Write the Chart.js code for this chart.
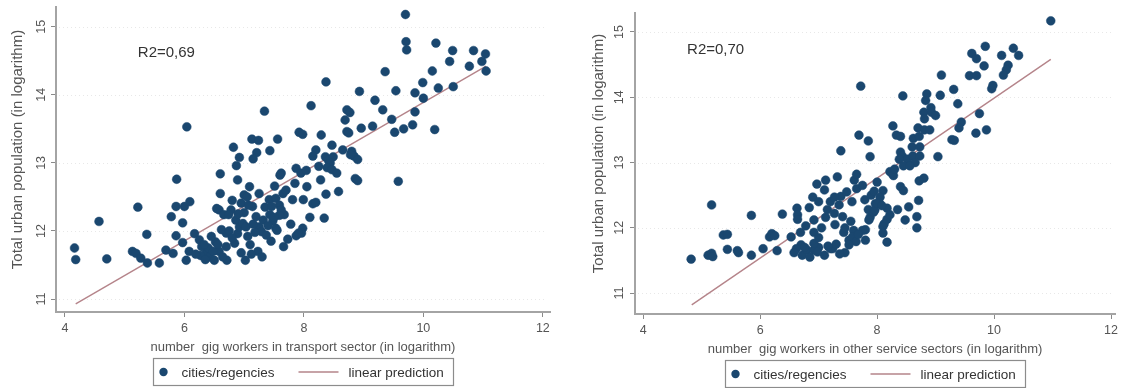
<!DOCTYPE html>
<html>
<head>
<meta charset="utf-8">
<script src="https://cdn.jsdelivr.net/npm/chart.js@4.4.1/dist/chart.umd.min.js"></script>
<style>
  body { margin: 0; background: #fff; }
  #wrap { display: flex; width: 1122px; height: 388px; }
  canvas { display: block; }
</style>
</head>
<body>
<div id="wrap">
  <canvas id="transport-chart" width="561" height="388"></canvas>
  <canvas id="service-chart" width="561" height="388"></canvas>
</div>
<script>
const xTicks = [4, 6, 8, 10, 12];
const yTicks = [11, 12, 13, 14, 15];

// left panel: gig workers in transport (log) vs urban population (log)
const transportX = [
  4.16, 4.18, 4.57, 4.70, 5.22, 5.37, 5.13, 5.19, 5.27, 5.38,
  5.58, 5.69, 5.81, 5.86, 5.97, 5.97, 5.78, 5.86, 6.00, 6.09,
  5.87, 6.04, 6.17, 6.03, 6.08, 6.25, 6.29, 6.36, 6.27, 6.19,
  6.42, 6.50, 6.52, 6.58, 6.71, 6.70, 6.70, 6.58, 6.54, 6.60,
  6.60, 6.78, 6.66, 6.74, 6.86, 6.84, 6.89, 6.92, 6.95, 7.00,
  7.09, 6.89, 6.87, 6.92, 6.82, 7.13, 7.24, 7.21, 7.15, 7.43,
  7.34, 7.56, 7.62, 7.60, 7.51, 7.25, 7.14, 7.07, 7.00, 6.98,
  7.03, 7.06, 7.23, 7.02, 7.20, 7.25, 7.29, 7.37, 7.53, 7.32,
  7.43, 7.42, 7.53, 7.65, 7.70, 7.59, 7.67, 7.62, 7.81, 7.87,
  7.95, 7.92, 7.98, 7.98, 7.87, 7.73, 7.66, 8.05,
  9.70, 9.71, 9.72, 10.21, 10.49, 10.84, 11.04, 10.98, 11.05, 10.77,
  10.44, 10.15, 9.36, 9.99, 10.25, 10.50, 9.86, 10.00, 9.54, 9.86,
  9.19, 9.32, 8.93, 8.37, 9.47, 9.52, 9.67, 9.82, 10.19, 9.58,
  9.15, 8.96, 8.72, 8.77, 8.69, 8.72, 8.75, 8.12,
  8.29, 8.20, 8.47, 8.65, 8.80, 8.84, 8.78, 8.90, 8.36, 8.41, 8.49, 8.44, 8.39, 8.47,
  8.04, 8.28, 8.86, 8.90,
  8.37, 8.58, 7.99, 8.15, 8.20, 8.34,
  7.96, 7.91, 7.55, 7.48, 7.59,
  7.10, 7.15, 7.35, 7.45, 6.95, 6.62, 6.45, 6.80, 7.50, 7.78,
  8.10, 8.25, 8.55, 6.40, 6.33, 7.30, 7.85, 8.15, 6.75, 7.05,
  6.48, 6.64, 6.80, 7.12, 7.40, 6.56, 6.90, 7.18, 7.46, 6.35
];
const transportY = [
  11.75, 11.58, 12.14, 11.59, 12.35, 11.95, 11.70, 11.67, 11.60, 11.53,
  11.53, 11.72, 11.67, 11.93, 11.83, 12.12, 12.21, 12.36, 12.36, 12.43,
  12.76, 13.53, 11.96, 11.57, 11.70, 11.87, 11.77, 11.67, 11.64, 11.66,
  11.62, 11.57, 11.84, 11.70, 11.57, 11.77, 11.97, 12.31, 12.33, 12.55,
  12.84, 12.31, 12.24, 12.24, 12.16, 11.82, 11.96, 12.06, 12.41, 12.53,
  12.65, 12.75, 12.96, 13.08, 13.23, 13.35, 13.33, 13.15, 13.06, 13.18,
  13.76, 13.35, 12.85, 12.82, 12.66, 12.55, 12.36, 12.38, 12.27, 12.11,
  12.06, 11.92, 11.70, 11.57, 12.21, 12.06, 11.99, 11.94, 12.04, 12.16,
  12.24, 12.46, 12.48, 12.55, 12.60, 12.38, 12.24, 12.31, 12.46, 12.92,
  12.85, 13.45, 13.42, 12.04, 11.93, 11.88, 11.77, 12.65,
  15.18, 14.78, 14.66, 14.76, 14.65, 14.65, 14.60, 14.49, 14.35, 14.42,
  14.49, 14.35, 14.34, 14.18, 14.10, 14.12, 14.03, 13.95, 14.06, 13.75,
  13.92, 13.78, 14.05, 14.19, 13.64, 13.45, 13.50, 13.56, 13.49, 12.73,
  13.54, 13.51, 13.78, 13.74, 13.63, 13.46, 13.44, 13.84,
  13.41, 13.19, 13.26, 13.19, 13.17, 13.10, 13.12, 13.05, 13.09, 13.04, 13.09, 13.00, 12.93, 12.90,
  12.89, 12.75, 12.77, 12.74,
  12.54, 12.58, 12.46, 12.40, 12.42, 12.19,
  11.97, 11.97, 12.01, 12.15, 12.23,
  11.80, 12.10, 12.35, 11.85, 11.68, 12.02, 11.92, 12.45, 12.20, 12.10,
  12.20, 12.95, 12.85, 11.75, 11.80, 11.62, 12.70, 13.10, 12.00, 12.50,
  11.70, 11.62, 11.90, 11.66, 12.08, 11.80, 12.25, 11.98, 12.36, 11.58
];
const transportFitX = [4.18, 11.05];
const transportFitY = [10.93, 14.42];

// right panel: gig workers in other service sectors (log)
const serviceX = [
  4.82, 5.17, 5.11, 5.17, 5.19, 5.37, 5.44, 5.44, 5.61, 5.63,
  5.85, 5.85, 6.05, 6.16, 6.20, 6.25, 6.29, 6.38, 6.53, 6.63,
  6.64, 6.64, 6.69, 6.78, 6.84, 6.92, 6.92, 6.97, 6.90, 7.00,
  7.10, 7.12, 7.12, 7.15, 7.20, 7.27, 7.28, 7.32, 7.38, 7.35,
  7.38, 7.43, 7.52, 7.60, 7.61, 7.65, 7.57, 7.69, 7.72, 7.85,
  7.88, 7.79, 7.85, 7.88, 7.80, 7.90, 6.70, 6.72, 6.80, 6.92,
  7.00, 7.10, 7.20, 6.62, 6.92,
  10.97, 9.85, 9.62, 9.70, 9.83, 10.13, 10.33, 10.42, 10.24, 10.21,
  10.16, 9.58, 9.70, 9.10, 9.96, 9.98, 9.31, 9.08, 8.85, 8.83,
  8.44, 9.38, 8.92, 8.80, 8.93, 9.00, 8.81, 9.75, 9.44, 9.40,
  9.69, 9.87, 9.28, 9.32, 8.27, 8.33, 8.40, 8.70, 8.81, 8.90,
  8.62, 8.72, 8.60, 8.73, 8.40, 8.43, 8.38, 8.52, 8.61, 8.73,
  9.04, 8.65, 8.45, 8.56, 8.26, 8.22, 8.28, 8.80, 8.72, 8.40,
  8.45, 8.10, 7.95, 8.05, 8.04, 7.97, 8.71, 8.54, 8.17, 7.94,
  8.17, 8.12, 8.68, 8.68, 8.10, 8.17,
  7.27, 7.41, 7.45, 7.58, 7.75, 7.86, 7.96, 8.00, 8.08, 7.80, 7.64, 7.24,
  7.05, 7.30, 7.45, 6.85, 7.00, 7.55, 7.65, 7.75, 8.00, 8.30, 7.48, 8.10,
  6.76, 6.98, 7.16, 7.36, 7.52, 8.22, 8.35, 8.48, 6.58, 7.68
];
const serviceY = [
  11.52, 12.35, 11.58, 11.61, 11.56, 11.89, 11.90, 11.67, 11.65, 11.62,
  11.58, 12.19, 11.68, 11.86, 11.91, 11.88, 11.65, 12.21, 11.86, 12.30,
  12.20, 12.13, 11.93, 12.03, 12.31, 12.12, 11.93, 12.67, 12.47, 12.40,
  12.58, 12.73, 12.16, 12.28, 12.40, 12.22, 12.05, 12.78, 13.18, 12.35,
  12.48, 11.93, 11.81, 11.96, 12.73, 12.82, 12.40, 13.42, 14.17, 13.33,
  13.09, 12.43, 12.28, 12.16, 11.97, 12.50, 11.74, 11.58, 11.66, 11.66,
  11.70, 11.58, 11.68, 11.68, 11.76,
  15.17, 14.78, 14.67, 14.59, 14.48, 14.64, 14.75, 14.64, 14.49, 14.42,
  14.34, 14.33, 14.33, 14.34, 14.13, 14.18, 14.12, 14.03, 14.05, 13.95,
  14.02, 13.90, 13.84, 13.77, 13.77, 13.72, 13.67, 13.75, 13.62, 13.53,
  13.45, 13.50, 13.35, 13.34, 13.56, 13.42, 13.40, 13.53, 13.50, 13.50,
  13.37, 13.40, 13.24, 13.24, 13.16, 13.10, 13.05, 13.05, 13.10, 13.10,
  13.09, 13.00, 12.95, 12.95, 12.83, 12.86, 12.80, 12.76, 12.72, 12.63,
  12.57, 12.57, 12.56, 12.47, 12.38, 12.37, 12.42, 12.32, 12.30, 12.24,
  12.13, 12.06, 12.17, 12.00, 12.02, 11.78,
  12.47, 12.17, 12.00, 11.86, 11.96, 12.12, 12.27, 12.37, 12.34, 11.81, 11.79, 11.68,
  12.00, 11.75, 11.62, 11.55, 11.85, 12.10, 12.60, 12.65, 12.70, 12.90, 12.55, 11.92,
  11.70, 11.63, 11.72, 11.60, 11.74, 12.20, 12.28, 12.12, 11.62, 11.90
];
const serviceFitX = [4.83, 10.97];
const serviceFitY = [10.82, 14.58];

const NAVY = '#1a476f';
const FIT = '#b5848a';
const FONT = '"Liberation Sans", Arial, sans-serif';

// Stata-look extras: dotted grid, rotated y labels, titles, R2 note, boxed legend
const stataDecor = {
  id: 'stataDecor',
  beforeDatasetsDraw(chart, args, opts) {
    const { ctx, chartArea: a, scales: { y } } = chart;
    ctx.save();
    ctx.strokeStyle = '#e8e8e8';
    ctx.lineWidth = 1;
    ctx.setLineDash([1, 3]);
    yTicks.forEach(v => {
      const py = Math.round(y.getPixelForValue(v)) + 0.5;
      ctx.beginPath();
      ctx.moveTo(a.left + 3, py);
      ctx.lineTo(a.right - 3, py);
      ctx.stroke();
    });
    ctx.restore();
  },
  afterDraw(chart, args, opts) {
    const { ctx, chartArea: a, scales: { x, y } } = chart;
    ctx.save();
    ctx.textAlign = 'center';
    ctx.textBaseline = 'middle';

    // y tick labels (vertical)
    ctx.fillStyle = '#555';
    ctx.font = '12.5px ' + FONT;
    yTicks.forEach(v => {
      ctx.save();
      ctx.translate(a.left - opts.yLabelGap, y.getPixelForValue(v));
      ctx.rotate(-Math.PI / 2);
      ctx.fillText(String(v), 0, 0);
      ctx.restore();
    });

    // y title
    ctx.font = '15px ' + FONT;
    ctx.save();
    ctx.translate(a.left - opts.yTitleGap, (a.top + a.bottom) / 2 - 10);
    ctx.rotate(-Math.PI / 2);
    ctx.fillText(opts.yTitle, 0, 0);
    ctx.restore();

    // x title
    ctx.font = '13px ' + FONT;
    ctx.fillText(opts.xTitle, (a.left + a.right) / 2, a.bottom + 35.5);

    // R2 note
    ctx.fillStyle = '#333';
    ctx.font = '15px ' + FONT;
    ctx.textAlign = 'left';
    ctx.fillText(opts.r2, x.getPixelForValue(opts.r2At[0]), y.getPixelForValue(opts.r2At[1]));

    // legend box
    const w = 300, h = 27;
    const bx = Math.round((a.left + a.right) / 2 - w / 2) + 0.5;
    const by = Math.round(a.bottom + 46) + 0.5;
    const my = by + h / 2;
    ctx.strokeStyle = '#8c8c8c';
    ctx.lineWidth = 1.2;
    ctx.strokeRect(bx, by, w, h);
    ctx.fillStyle = NAVY;
    ctx.beginPath();
    ctx.arc(bx + 10, my, 4.2, 0, Math.PI * 2);
    ctx.fill();
    ctx.strokeStyle = FIT;
    ctx.lineWidth = 1.3;
    ctx.beginPath();
    ctx.moveTo(bx + 145, my);
    ctx.lineTo(bx + 185, my);
    ctx.stroke();
    ctx.fillStyle = '#333';
    ctx.font = '13.5px ' + FONT;
    ctx.fillText(chart.data.datasets[0].label, bx + 28, my + 1);
    ctx.fillText(chart.data.datasets[1].label, bx + 195, my + 1);
    ctx.restore();
  }
};

function makeChart(id, xs, ys, fitX, fitY, decor, box) {
  const points = xs.map((v, i) => ({ x: v, y: ys[i] }));
  const fit = fitX.map((v, i) => ({ x: v, y: fitY[i] }));
  return new Chart(document.getElementById(id), {
    type: 'scatter',
    data: {
      datasets: [
        { label: 'cities/regencies', data: points, backgroundColor: NAVY, borderColor: NAVY,
          borderWidth: 0.5, pointRadius: 4.4, pointHoverRadius: 4.4, order: 1 },
        { type: 'line', label: 'linear prediction', data: fit, borderColor: FIT, borderWidth: 1.4,
          pointRadius: 0, fill: false, order: 2 }
      ]
    },
    options: {
      responsive: false,
      animation: false,
      devicePixelRatio: 1,
      layout: { padding: { top: box.top, right: box.right, left: 0, bottom: 0 } },
      plugins: { legend: { display: false }, tooltip: { enabled: false }, stataDecor: decor },
      scales: {
        x: {
          type: 'linear', min: box.xMin, max: box.xMax,
          afterBuildTicks: s => { s.ticks = xTicks.map(v => ({ value: v })); },
          afterFit: s => { s.height = box.xHeight; },
          grid: { drawOnChartArea: false, tickLength: 5, tickColor: '#8a8a8a', tickWidth: 1 },
          border: { color: '#a4a4a4', width: 2 },
          ticks: { color: '#555', font: { family: FONT, size: 12.5 }, padding: 4, maxRotation: 0 }
        },
        y: {
          type: 'linear', min: box.yMin, max: box.yMax,
          afterBuildTicks: s => { s.ticks = yTicks.map(v => ({ value: v })); },
          afterFit: s => { s.width = box.yWidth; },
          grid: { drawOnChartArea: false, tickLength: 5, tickColor: '#8a8a8a', tickWidth: 1 },
          border: { color: '#a4a4a4', width: 2 },
          ticks: { display: false }
        }
      }
    },
    plugins: [stataDecor]
  });
}

makeChart('transport-chart', transportX, transportY, transportFitX, transportFitY, {
  r2: 'R2=0,69', r2At: [5.22, 14.62], yLabelGap: 14, yTitleGap: 38,
  yTitle: 'Total urban population (in logarithm)',
  xTitle: 'number  gig workers in transport sector (in logarithm)'
}, { top: 7, right: 11, yWidth: 56, xHeight: 76, xMin: 3.85, xMax: 12.12, yMin: 10.81, yMax: 15.29 });

makeChart('service-chart', serviceX, serviceY, serviceFitX, serviceFitY, {
  r2: 'R2=0,70', r2At: [4.75, 14.72], yLabelGap: 15, yTitleGap: 36,
  yTitle: 'Total urban population (in logarithm)',
  xTitle: 'number  gig workers in other service sectors (in logarithm)'
}, { top: 13, right: 4, yWidth: 74, xHeight: 74, xMin: 3.86, xMax: 12.07, yMin: 10.68, yMax: 15.29 });
</script>
</body>
</html>
